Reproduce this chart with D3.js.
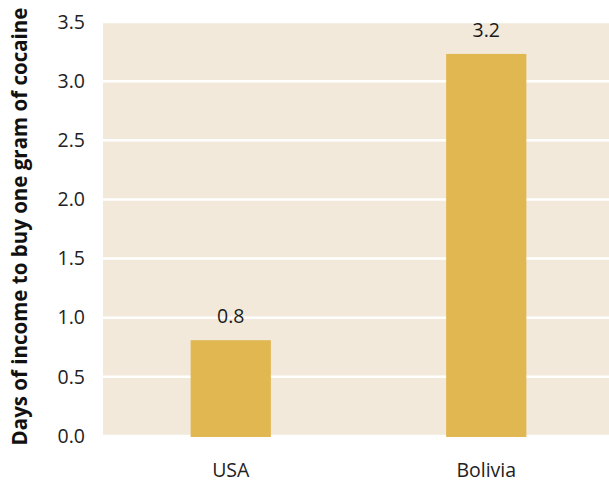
<!DOCTYPE html>
<html>
<head>
<meta charset="utf-8">
<script src="https://cdn.jsdelivr.net/npm/d3@7"></script>
<style>
  html, body { margin: 0; padding: 0; background: #fff; }
  svg { display: block; font-family: "Open Sans", sans-serif; }
</style>
</head>
<body>
<svg id="chart" width="609" height="483"></svg>
<script>
const categories = ["USA", "Bolivia"];
const values = [0.81, 3.23];
const valueLabels = ["0.8", "3.2"];
const yTicks = [0, 0.5, 1.0, 1.5, 2.0, 2.5, 3.0, 3.5];
const yTitle = "Days of income to buy one gram of cocaine";

(function () {
const svg = d3.select("#chart");
const pLeft = 103, pRight = 614, pTop = 22, pBottom = 436;
const fs = 19.5;

const x = d3.scaleBand().domain(categories).range([pLeft, pRight])
  .paddingInner(0.686).paddingOuter(0.343);
const y = d3.scaleLinear().domain([0, 3.5]).range([pBottom, pTop]);

// background
svg.append("rect").attr("x", pLeft).attr("y", pTop)
  .attr("width", 609 - pLeft).attr("height", pBottom - pTop)
  .attr("fill", "#f2e9db");

// gridlines
svg.append("g").selectAll("line").data(yTicks).join("line")
  .attr("x1", pLeft).attr("x2", 609)
  .attr("y1", d => y(d)).attr("y2", d => y(d))
  .attr("stroke", "#ffffff").attr("stroke-width", 2.5);

// bars
svg.append("g").selectAll("rect").data(categories).join("rect")
  .attr("x", d => x(d)).attr("width", x.bandwidth())
  .attr("y", (d, i) => y(values[i]))
  .attr("height", (d, i) => y(0) - y(values[i]) + 1)
  .attr("fill", "#e1b751");

// value labels
svg.append("g").selectAll("text").data(categories).join("text")
  .attr("x", d => x(d) + x.bandwidth() / 2)
  .attr("y", (d, i) => y(values[i]) - 17)
  .attr("text-anchor", "middle")
  .attr("font-size", fs).attr("fill", "#1a1a1a")
  .text((d, i) => valueLabels[i]);

// y axis
const yAxis = d3.axisLeft(y).tickValues(yTicks).tickFormat(d3.format(".1f")).tickSize(0).tickPadding(18);
const gy = svg.append("g").attr("transform", `translate(${pLeft},0)`).call(yAxis);
gy.select(".domain").remove();
gy.selectAll("text").attr("font-size", fs).attr("fill", "#222").attr("font-family", "Open Sans, sans-serif");

// x axis
const xAxis = d3.axisBottom(x).tickSize(0).tickPadding(27);
const gx = svg.append("g").attr("transform", `translate(0,${pBottom})`).call(xAxis);
gx.select(".domain").remove();
gx.selectAll("text").attr("font-size", fs).attr("fill", "#222").attr("font-family", "Open Sans, sans-serif");

// y title
svg.append("text")
  .attr("transform", `translate(27,226.5) rotate(-90)`)
  .attr("text-anchor", "middle")
  .attr("font-size", 20.5).attr("font-weight", "bold").attr("fill", "#111")
  .text(yTitle);
})();
</script>
</body>
</html>
